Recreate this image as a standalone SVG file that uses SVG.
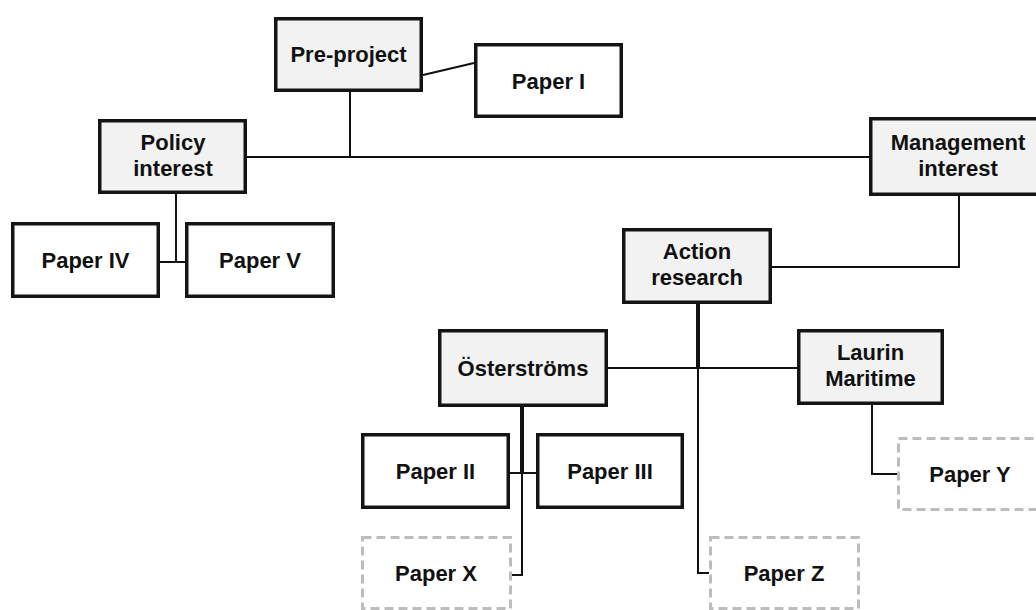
<svg xmlns="http://www.w3.org/2000/svg" width="1036" height="610" viewBox="0 0 1036 610">
<style>
.box{stroke:#141414;stroke-width:3.5}
.cat{fill:#f2f2f2}
.pap{fill:#ffffff}
.dash{fill:#ffffff;stroke:#bdbdbd;stroke-width:3;stroke-dasharray:9 5}
.lbl{font-family:"Liberation Sans",Arial,sans-serif;font-weight:bold;font-size:22px;fill:#111;text-anchor:middle}
.ln{fill:none;stroke:#111;stroke-width:2}
.thick{fill:none;stroke:#111;stroke-width:4}
</style>
<rect width="1036" height="610" fill="#ffffff"/>
<g id="connectors">
<line class="ln" x1="423" y1="75" x2="474" y2="63"/>
<polyline class="ln" points="350,92 350,157"/>
<polyline class="ln" points="247,157 869,157"/>
<polyline class="ln" points="176,194 176,262"/>
<polyline class="ln" points="160,262 185,262"/>
<polyline class="ln" points="959,196 959,267 772,267"/>
<polyline class="thick" points="698,304 698,368"/>
<polyline class="ln" points="608,368 797,368"/>
<polyline class="ln" points="698,368 698,573 709,573"/>
<polyline class="thick" points="522,407 522,473"/>
<polyline class="ln" points="510,473 536,473"/>
<polyline class="ln" points="522,473 522,575 512,575"/>
<polyline class="ln" points="872,405 872,474 897,474"/>
</g>
<g id="pre-project"><rect class="box cat" x="275.75" y="18.75" width="145.5" height="71.5"/><text class="lbl" x="348.5" y="62">Pre-project</text></g>
<g id="paper-i"><rect class="box pap" x="475.75" y="44.75" width="145.5" height="71.5"/><text class="lbl" x="548.5" y="89">Paper I</text></g>
<g id="policy-interest"><rect class="box cat" x="99.75" y="120.75" width="145.5" height="71.5"/><text class="lbl" x="173" y="150">Policy</text><text class="lbl" x="173" y="176">interest</text></g>
<g id="management-interest"><rect class="box cat" x="870.75" y="118.75" width="175" height="75.5"/><text class="lbl" x="958" y="150">Management</text><text class="lbl" x="958" y="176">interest</text></g>
<g id="paper-iv"><rect class="box pap" x="12.75" y="223.75" width="145.5" height="72.5"/><text class="lbl" x="85.5" y="268">Paper IV</text></g>
<g id="paper-v"><rect class="box pap" x="186.75" y="223.75" width="146.5" height="72.5"/><text class="lbl" x="260" y="268">Paper V</text></g>
<g id="action-research"><rect class="box cat" x="623.75" y="229.75" width="146.5" height="72.5"/><text class="lbl" x="697" y="259">Action</text><text class="lbl" x="697" y="285">research</text></g>
<g id="osterstroms"><rect class="box cat" x="439.75" y="330.75" width="166.5" height="74.5"/><text class="lbl" x="523" y="376">Österströms</text></g>
<g id="laurin-maritime"><rect class="box cat" x="798.75" y="330.75" width="143.5" height="72.5"/><text class="lbl" x="870.5" y="360">Laurin</text><text class="lbl" x="870.5" y="386">Maritime</text></g>
<g id="paper-ii"><rect class="box pap" x="362.75" y="434.75" width="145.5" height="72.5"/><text class="lbl" x="435.5" y="479">Paper II</text></g>
<g id="paper-iii"><rect class="box pap" x="537.75" y="434.75" width="144.5" height="72.5"/><text class="lbl" x="610" y="479">Paper III</text></g>
<g id="paper-x"><rect class="dash" x="362.5" y="537.5" width="148" height="71"/><text class="lbl" x="436" y="581">Paper X</text></g>
<g id="paper-z"><rect class="dash" x="710.5" y="537.5" width="148" height="71"/><text class="lbl" x="784" y="581">Paper Z</text></g>
<g id="paper-y"><rect class="dash" x="898.5" y="438.5" width="146" height="71"/><text class="lbl" x="970" y="482">Paper Y</text></g>
</svg>
